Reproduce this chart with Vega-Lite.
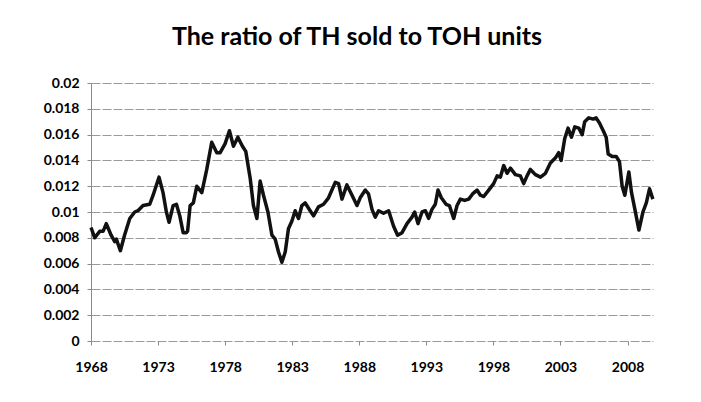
{
  "$schema": "https://vega.github.io/schema/vega-lite/v6.json",
  "width": 562,
  "height": 258,
  "autosize": {"type": "none"},
  "padding": {"left": 91, "top": 83, "right": 48, "bottom": 61},
  "background": "white",
  "title": {
    "text": "The ratio of TH sold to TOH units",
    "font": "Lato",
    "fontSize": 25,
    "fontWeight": "bold",
    "color": "#000000",
    "anchor": "middle",
    "dx": -15,
    "offset": 26
  },
  "config": {
    "view": {"stroke": null},
    "axis": {
      "labelFont": "Lato",
      "labelFontWeight": "bold",
      "labelFontSize": 14,
      "labelColor": "#000000",
      "domainColor": "#8a8a8a",
      "tickColor": "#8a8a8a",
      "gridColor": "#9a9a9a",
      "gridWidth": 1,
      "gridDash": [9, 2]
    }
  },
  "data": {
    "values": [
      {"year": 1968.0, "ratio": 0.0088},
      {"year": 1968.28, "ratio": 0.0080},
      {"year": 1968.65, "ratio": 0.0085},
      {"year": 1968.9, "ratio": 0.0085},
      {"year": 1969.14, "ratio": 0.0091},
      {"year": 1969.5, "ratio": 0.0082},
      {"year": 1969.77, "ratio": 0.0077},
      {"year": 1969.89, "ratio": 0.0079},
      {"year": 1970.19, "ratio": 0.0070},
      {"year": 1970.5, "ratio": 0.0082},
      {"year": 1970.89, "ratio": 0.0095},
      {"year": 1971.26, "ratio": 0.0100},
      {"year": 1971.5, "ratio": 0.0101},
      {"year": 1971.88, "ratio": 0.0105},
      {"year": 1972.38, "ratio": 0.0106},
      {"year": 1972.63, "ratio": 0.0113},
      {"year": 1973.07, "ratio": 0.0127},
      {"year": 1973.37, "ratio": 0.0115},
      {"year": 1973.62, "ratio": 0.0100},
      {"year": 1973.82, "ratio": 0.0092},
      {"year": 1974.12, "ratio": 0.0105},
      {"year": 1974.37, "ratio": 0.0106},
      {"year": 1974.62, "ratio": 0.0097},
      {"year": 1974.87, "ratio": 0.0084},
      {"year": 1975.1, "ratio": 0.0084},
      {"year": 1975.2, "ratio": 0.0085},
      {"year": 1975.39, "ratio": 0.0105},
      {"year": 1975.63, "ratio": 0.0107},
      {"year": 1975.89, "ratio": 0.0120},
      {"year": 1976.26, "ratio": 0.0115},
      {"year": 1976.63, "ratio": 0.0133},
      {"year": 1977.0, "ratio": 0.0154},
      {"year": 1977.38, "ratio": 0.0146},
      {"year": 1977.63, "ratio": 0.0146},
      {"year": 1978.0, "ratio": 0.0153},
      {"year": 1978.32, "ratio": 0.0163},
      {"year": 1978.62, "ratio": 0.0151},
      {"year": 1978.95, "ratio": 0.0158},
      {"year": 1979.29, "ratio": 0.0151},
      {"year": 1979.54, "ratio": 0.0147},
      {"year": 1979.87, "ratio": 0.0126},
      {"year": 1980.11, "ratio": 0.0105},
      {"year": 1980.37, "ratio": 0.0095},
      {"year": 1980.61, "ratio": 0.0124},
      {"year": 1980.86, "ratio": 0.0113},
      {"year": 1981.19, "ratio": 0.0100},
      {"year": 1981.49, "ratio": 0.0082},
      {"year": 1981.73, "ratio": 0.0079},
      {"year": 1981.98, "ratio": 0.0069},
      {"year": 1982.23, "ratio": 0.0061},
      {"year": 1982.48, "ratio": 0.0069},
      {"year": 1982.72, "ratio": 0.0087},
      {"year": 1982.98, "ratio": 0.0093},
      {"year": 1983.22, "ratio": 0.0101},
      {"year": 1983.47, "ratio": 0.0095},
      {"year": 1983.72, "ratio": 0.0105},
      {"year": 1983.97, "ratio": 0.0107},
      {"year": 1984.34, "ratio": 0.0101},
      {"year": 1984.59, "ratio": 0.0097},
      {"year": 1984.96, "ratio": 0.0104},
      {"year": 1985.34, "ratio": 0.0106},
      {"year": 1985.71, "ratio": 0.0111},
      {"year": 1985.96, "ratio": 0.0117},
      {"year": 1986.21, "ratio": 0.0123},
      {"year": 1986.46, "ratio": 0.0122},
      {"year": 1986.71, "ratio": 0.0110},
      {"year": 1987.08, "ratio": 0.0121},
      {"year": 1987.46, "ratio": 0.0113},
      {"year": 1987.83, "ratio": 0.0105},
      {"year": 1988.07, "ratio": 0.0111},
      {"year": 1988.45, "ratio": 0.0117},
      {"year": 1988.69, "ratio": 0.0114},
      {"year": 1988.95, "ratio": 0.0102},
      {"year": 1989.19, "ratio": 0.0096},
      {"year": 1989.44, "ratio": 0.0101},
      {"year": 1989.81, "ratio": 0.0099},
      {"year": 1990.19, "ratio": 0.0101},
      {"year": 1990.56, "ratio": 0.0089},
      {"year": 1990.86, "ratio": 0.0082},
      {"year": 1991.19, "ratio": 0.0084},
      {"year": 1991.56, "ratio": 0.0091},
      {"year": 1991.93, "ratio": 0.0096},
      {"year": 1992.13, "ratio": 0.0100},
      {"year": 1992.38, "ratio": 0.0091},
      {"year": 1992.68, "ratio": 0.0100},
      {"year": 1992.93, "ratio": 0.0101},
      {"year": 1993.17, "ratio": 0.0095},
      {"year": 1993.42, "ratio": 0.0102},
      {"year": 1993.67, "ratio": 0.0106},
      {"year": 1993.87, "ratio": 0.0117},
      {"year": 1994.12, "ratio": 0.0111},
      {"year": 1994.47, "ratio": 0.0106},
      {"year": 1994.72, "ratio": 0.0105},
      {"year": 1995.04, "ratio": 0.0095},
      {"year": 1995.29, "ratio": 0.0105},
      {"year": 1995.54, "ratio": 0.0110},
      {"year": 1995.86, "ratio": 0.0109},
      {"year": 1996.16, "ratio": 0.0110},
      {"year": 1996.45, "ratio": 0.0114},
      {"year": 1996.78, "ratio": 0.0117},
      {"year": 1997.03, "ratio": 0.0113},
      {"year": 1997.28, "ratio": 0.0112},
      {"year": 1997.65, "ratio": 0.0117},
      {"year": 1998.02, "ratio": 0.0122},
      {"year": 1998.28, "ratio": 0.0128},
      {"year": 1998.52, "ratio": 0.0127},
      {"year": 1998.77, "ratio": 0.0136},
      {"year": 1999.02, "ratio": 0.0130},
      {"year": 1999.27, "ratio": 0.0134},
      {"year": 1999.64, "ratio": 0.0129},
      {"year": 2000.01, "ratio": 0.0128},
      {"year": 2000.26, "ratio": 0.0122},
      {"year": 2000.51, "ratio": 0.0128},
      {"year": 2000.76, "ratio": 0.0133},
      {"year": 2001.13, "ratio": 0.0129},
      {"year": 2001.51, "ratio": 0.0127},
      {"year": 2001.88, "ratio": 0.0130},
      {"year": 2002.25, "ratio": 0.0138},
      {"year": 2002.63, "ratio": 0.0142},
      {"year": 2002.87, "ratio": 0.0146},
      {"year": 2003.05, "ratio": 0.0140},
      {"year": 2003.32, "ratio": 0.0157},
      {"year": 2003.57, "ratio": 0.0165},
      {"year": 2003.82, "ratio": 0.0158},
      {"year": 2004.07, "ratio": 0.0166},
      {"year": 2004.37, "ratio": 0.0165},
      {"year": 2004.62, "ratio": 0.0160},
      {"year": 2004.81, "ratio": 0.0170},
      {"year": 2005.11, "ratio": 0.0173},
      {"year": 2005.44, "ratio": 0.0172},
      {"year": 2005.66, "ratio": 0.0173},
      {"year": 2005.91, "ratio": 0.0169},
      {"year": 2006.19, "ratio": 0.0163},
      {"year": 2006.41, "ratio": 0.0158},
      {"year": 2006.56, "ratio": 0.0145},
      {"year": 2006.86, "ratio": 0.0143},
      {"year": 2007.16, "ratio": 0.0143},
      {"year": 2007.4, "ratio": 0.0139},
      {"year": 2007.6, "ratio": 0.0120},
      {"year": 2007.8, "ratio": 0.0113},
      {"year": 2008.1, "ratio": 0.0131},
      {"year": 2008.3, "ratio": 0.0115},
      {"year": 2008.55, "ratio": 0.0102},
      {"year": 2008.85, "ratio": 0.0086},
      {"year": 2009.15, "ratio": 0.0100},
      {"year": 2009.4, "ratio": 0.0107},
      {"year": 2009.64, "ratio": 0.0118},
      {"year": 2009.89, "ratio": 0.0110}
    ]
  },
  "mark": {"type": "line", "color": "#111111", "strokeWidth": 3.5, "strokeJoin": "round"},
  "encoding": {
    "x": {
      "field": "year",
      "type": "quantitative",
      "scale": {"domain": [1968, 2009.9], "nice": false, "zero": false},
      "axis": {
        "title": null,
        "values": [1968, 1973, 1978, 1983, 1988, 1993, 1998, 2003, 2008],
        "format": "d",
        "grid": false,
        "tickSize": 4,
        "labelPadding": 15,
        "labelFlush": false,
        "domain": false
      }
    },
    "y": {
      "field": "ratio",
      "type": "quantitative",
      "scale": {"domain": [0, 0.02], "nice": false},
      "axis": {
        "title": null,
        "values": [0, 0.002, 0.004, 0.006, 0.008, 0.01, 0.012, 0.014, 0.016, 0.018, 0.02],
        "format": "~g",
        "tickSize": 4,
        "labelPadding": 8,
        "grid": true
      }
    }
  }
}
